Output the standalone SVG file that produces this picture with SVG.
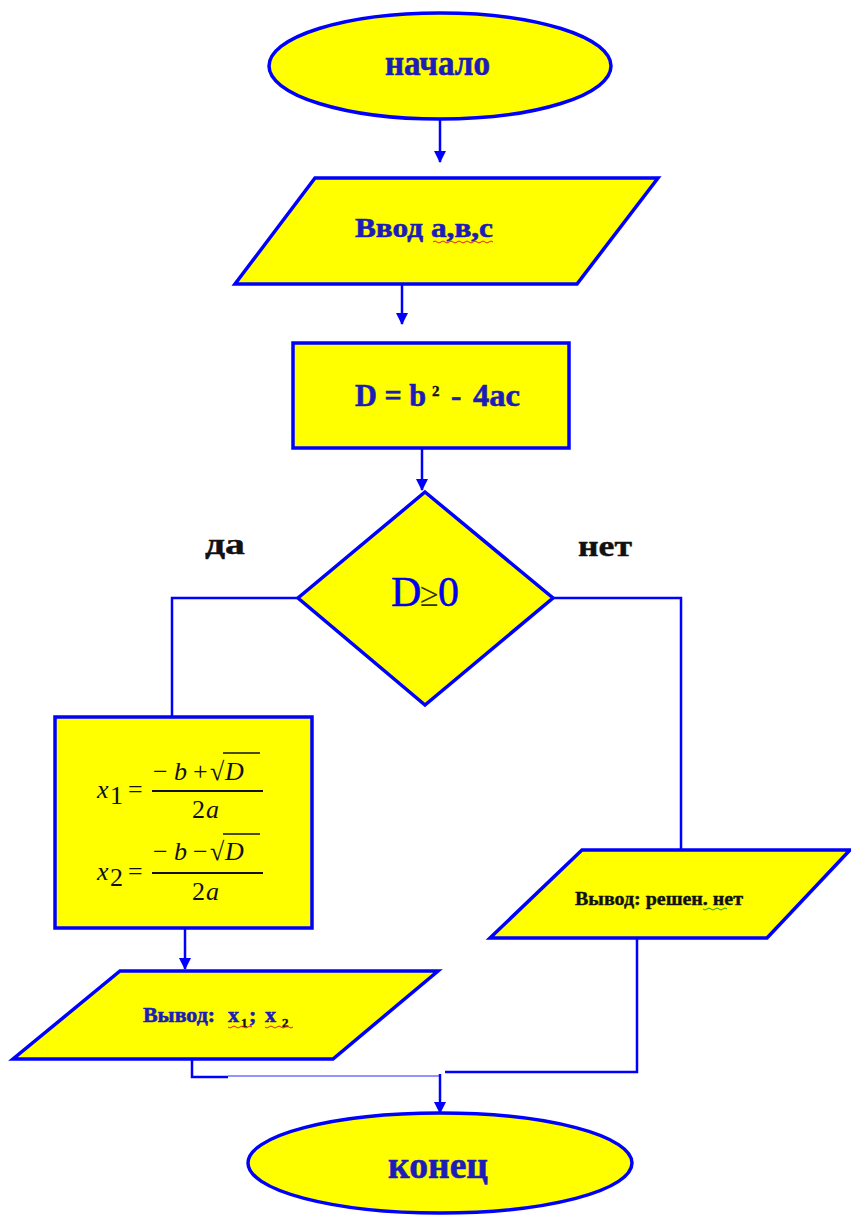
<svg xmlns="http://www.w3.org/2000/svg" width="851" height="1216" viewBox="0 0 851 1216">
<defs>
<marker id="arr" markerUnits="userSpaceOnUse" markerWidth="12" markerHeight="12" refX="11" refY="6" orient="auto">
<path d="M0,0 L12,6 L0,12 z" fill="#0000FF"/>
</marker>
<style>
.shape{fill:#FFFF00;stroke:#0000FF;stroke-width:3.5;stroke-linejoin:miter}
.conn{fill:none;stroke:#0000FF;stroke-width:2.5}
.thin{fill:none;stroke:#7070FF;stroke-width:1.5}
.bt{font-family:"Liberation Serif",serif;font-weight:bold;fill:#1C1CB8;stroke:#1C1CB8;stroke-width:0.6}
.blk{font-family:"Liberation Serif",serif;font-weight:bold;fill:#111111;stroke:#111111;stroke-width:0.4}
.math{font-family:"Liberation Serif",serif;font-style:italic;fill:#111111;font-size:26px}
.mr{font-family:"Liberation Serif",serif;fill:#111111;font-size:26px}
.sq{fill:none;stroke:#E02020;stroke-width:1}
.sqg{fill:none;stroke:#20A020;stroke-width:1}
</style>
</defs>
<rect width="851" height="1216" fill="#FFFFFF"/>

<g id="connectors">
<path class="conn" d="M440,119 L440,162" marker-end="url(#arr)"/>
<path class="conn" d="M402,284 L402,324" marker-end="url(#arr)"/>
<path class="conn" d="M422,448 L422,490" marker-end="url(#arr)"/>
<path class="conn" d="M298,598 L172,598 L172,716"/>
<path class="conn" d="M553,598 L681,598 L681,850"/>
<path class="conn" d="M185,928 L185,969" marker-end="url(#arr)"/>
<path class="conn" d="M192,1059 L192,1077 L228,1077"/>
<path class="thin" d="M228,1076 L440,1076"/>
<path class="conn" d="M637,938 L637,1072 L445,1072"/>
<path class="conn" d="M440,1074 L440,1113" marker-end="url(#arr)"/>
</g>

<g id="labels">
<text class="blk" x="205" y="554" font-size="29" textLength="40" lengthAdjust="spacingAndGlyphs">да</text>
<text class="blk" x="578" y="556" font-size="29" textLength="54" lengthAdjust="spacingAndGlyphs">нет</text>
</g>

<g id="start">
<ellipse class="shape" cx="440" cy="66" rx="171" ry="53"/>
<text class="bt" x="385" y="75" font-size="35" textLength="105" lengthAdjust="spacingAndGlyphs">начало</text>
</g>

<g id="input">
<polygon class="shape" points="315,178 658,178 577,284 235,284"/>
<text class="bt" x="355" y="237" font-size="28" textLength="138" lengthAdjust="spacingAndGlyphs">Ввод  а,в,с</text>
<path class="sq" d="M433,242 q2,-2 4,0 t4,0 t4,0 t4,0 t4,0 t4,0 t4,0 t4,0 t4,0 t4,0 t4,0 t4,0 t4,0 t4,0 t4,0"/>
</g>

<g id="calcD">
<rect class="shape" x="293" y="343" width="276" height="105"/>
<text class="bt" x="355" y="406" font-size="31" textLength="71" lengthAdjust="spacingAndGlyphs">D = b</text>
<text class="blk" x="432" y="396" font-size="15">2</text>
<text class="bt" x="451" y="406" font-size="31">-</text>
<text class="bt" x="473" y="406" font-size="31" textLength="47" lengthAdjust="spacingAndGlyphs">4ac</text>
</g>

<g id="decision">
<polygon class="shape" points="425,492 553,598 425,705 298,598"/>
<text x="391" y="606" font-family="Liberation Serif, serif" font-size="42" fill="#0000EE" stroke="#0000EE" stroke-width="0.5">D</text>
<text x="420" y="606" font-family="Liberation Serif, serif" font-size="34" fill="#333300">≥</text>
<text x="438" y="606" font-family="Liberation Serif, serif" font-size="42" fill="#0000EE" stroke="#0000EE" stroke-width="0.5">0</text>
</g>

<g id="roots">
<rect class="shape" x="55" y="717" width="257" height="211"/>
<text class="math" x="97" y="798">x</text>
<text class="mr" x="110" y="804" font-size="16">1</text>
<text class="mr" x="128" y="798">=</text>
<text class="mr" x="153" y="780">−</text>
<text class="math" x="174" y="780">b</text>
<text class="mr" x="193" y="780">+</text>
<text class="mr" x="210" y="780">√</text>
<path d="M223,753 L260,753" stroke="#111111" stroke-width="1.5"/>
<text class="math" x="225" y="780">D</text>
<path d="M152,791 L263,791" stroke="#111111" stroke-width="2"/>
<text class="mr" x="192" y="818">2</text>
<text class="math" x="206" y="818">a</text>

<text class="math" x="97" y="880">x</text>
<text class="mr" x="110" y="886" font-size="16">2</text>
<text class="mr" x="128" y="880">=</text>
<text class="mr" x="153" y="860">−</text>
<text class="math" x="174" y="860">b</text>
<text class="mr" x="193" y="860">−</text>
<text class="mr" x="210" y="860">√</text>
<path d="M223,834 L260,834" stroke="#111111" stroke-width="1.5"/>
<text class="math" x="225" y="860">D</text>
<path d="M152,873 L263,873" stroke="#111111" stroke-width="2"/>
<text class="mr" x="192" y="900">2</text>
<text class="math" x="206" y="900">a</text>
</g>

<g id="noSolution">
<polygon class="shape" points="582,850 850,850 767,938 490,938"/>
<text class="blk" x="575" y="905" font-size="18" textLength="168" lengthAdjust="spacingAndGlyphs">Вывод: решен. нет</text>
<path class="sqg" d="M703,909 q2,2 4,0 t4,0 t4,0 t4,0 t4,0 t4,0"/>
</g>

<g id="outputRoots">
<polygon class="shape" points="120,971 438,971 333,1059 13,1059"/>
<text class="bt" x="143" y="1022" font-size="22" textLength="72" lengthAdjust="spacingAndGlyphs">Вывод:</text>
<text class="bt" x="228" y="1022" font-size="22">x</text>
<text class="blk" x="241" y="1027" font-size="13">1</text>
<text class="bt" x="249" y="1022" font-size="22">;</text>
<text class="bt" x="265" y="1022" font-size="22">x</text>
<text class="blk" x="282" y="1027" font-size="13">2</text>
<path class="sq" d="M228,1027 q2,2 4,0 t4,0 t4,0 t4,0 t4,0 t4,0"/>
<path class="sq" d="M265,1027 q2,2 4,0 t4,0 t4,0 t4,0 t4,0 t4,0 t4,0"/>
</g>

<g id="end">
<ellipse class="shape" cx="440" cy="1163" rx="192" ry="50"/>
<text class="bt" x="388" y="1178" font-size="38" textLength="100" lengthAdjust="spacingAndGlyphs">конец</text>
</g>
</svg>
